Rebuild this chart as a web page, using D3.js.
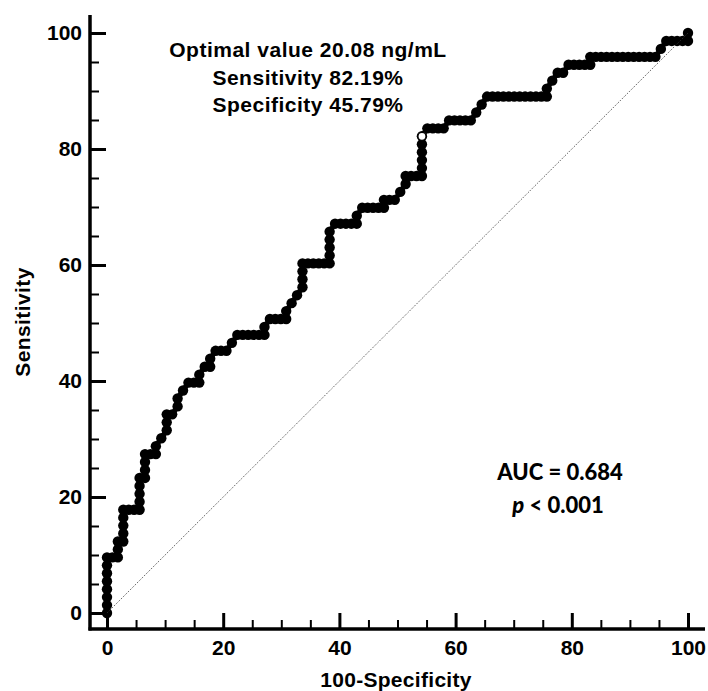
<!DOCTYPE html>
<html lang="en">
<head>
    <meta charset="UTF-8">
    <title>ROC curve</title>
    <style>
        body { margin: 0; background: #fff; }
    </style>
</head>
<body>
<script src="https://d3js.org/d3.v7.min.js"></script>
<script>
    // ROC points as case counts: false positives out of 107 negatives, true positives out of 73 positives
    var nNegative = 107;
    var nPositive = 73;
    var fpCount = [0,0,0,0,0,0,0,0, 1,2, 2,2, 3, 3,3,3,3, 4,5,6, 6,6,6,6, 7, 7,7,7, 8,9, 9, 10, 11, 11,11, 12, 13, 13, 14, 15,
        16,17, 17, 18, 19, 19, 20, 21,22, 23, 24, 25,26,27,28,29, 29, 30, 31,32,33, 33, 34, 35, 36, 36,36,36,
        37,38,39,40,41, 41,41,41,41, 42, 43,44,45,46, 46, 47, 48,49,50,51, 51, 52,53, 54, 55, 55, 56,57,58,
        58,58,58,58,58, 59, 60,61,62, 63, 64,65,66,67, 68, 69, 70, 71,72,73,74,75,76,77,78,79,80,81, 81, 82, 83, 84, 85,
        86,87,88,89, 89, 90,91,92,93,94,95,96,97,98,99,100,101, 102, 103, 104,105,106,107, 107];
    var tpCount = [0,1,2,3,4,5,6,7, 7,7, 8,9, 9, 10,11,12,13, 13,13,13, 14,15,16,17, 17, 18,19,20, 20,20, 21, 22, 23, 24,25, 25, 26, 27, 28, 29,
        29,29, 30, 31, 31, 32, 33, 33,33, 34, 35, 35,35,35,35,35, 36, 37, 37,37,37, 38, 39, 40, 41, 42,43,44,
        44,44,44,44,44, 45,46,47,48, 49, 49,49,49,49, 50, 51, 51,51,51,51, 52, 52,52, 53, 54, 55, 55,55,55,
        56,57,58,59,60, 61, 61,61,61, 62, 62,62,62,62, 63, 64, 65, 65,65,65,65,65,65,65,65,65,65,65, 66, 67, 68, 68, 69,
        69,69,69,69, 70, 70,70,70,70,70,70,70,70,70,70,70,70, 71, 72, 72,72,72,72, 73];

    // optimal cut-off point (100-specificity, sensitivity)
    var optimalPoint = [100 - 45.79, 82.19];
    var infoLines = ["Optimal value 20.08 ng/mL", "Sensitivity 82.19%", "Specificity 45.79%"];
    var majorTicks = [0, 20, 40, 60, 80, 100];
    var minorTicks = [5, 10, 15, 25, 30, 35, 45, 50, 55, 65, 70, 75, 85, 90, 95];

    var rocData = fpCount.map(function (d, i) {
        return [d / nNegative * 100, tpCount[i] / nPositive * 100];
    });

    var svg = d3.select("body")
                .append("svg")
                .attr("width", 708)
                .attr("height", 691);

    var x = d3.scaleLinear().domain([0, 100]).range([107, 688]);
    var y = d3.scaleLinear().domain([0, 100]).range([613, 33]);
    var axisX = 90, axisY = 629;
    var font = "Liberation Sans, Arial, sans-serif";

    // y axis: ticks point inward, labels outside
    var gy = svg.append("g").attr("transform", "translate(" + axisX + ",0)");
    gy.append("g").call(d3.axisRight(y).tickValues(minorTicks).tickSize(9).tickFormat(""))
        .call(function (g) { g.select(".domain").remove(); g.selectAll("line").attr("stroke-width", 2); });
    gy.append("g").call(d3.axisRight(y).tickValues(majorTicks).tickSize(16).tickFormat(""))
        .call(function (g) { g.select(".domain").remove(); g.selectAll("line").attr("stroke-width", 3); });
    gy.append("g").call(d3.axisLeft(y).tickValues(majorTicks).tickSize(0).tickPadding(8))
        .call(function (g) {
            g.select(".domain").remove();
            g.selectAll("text").attr("font-family", font)
                .attr("font-weight", "bold").attr("font-size", 21).attr("fill", "#000");
        });

    // x axis
    var gx = svg.append("g").attr("transform", "translate(0," + axisY + ")");
    gx.append("g").call(d3.axisTop(x).tickValues(minorTicks).tickSize(9).tickFormat(""))
        .call(function (g) { g.select(".domain").remove(); g.selectAll("line").attr("stroke-width", 2); });
    gx.append("g").call(d3.axisTop(x).tickValues(majorTicks).tickSize(16).tickFormat(""))
        .call(function (g) { g.select(".domain").remove(); g.selectAll("line").attr("stroke-width", 3); });
    gx.append("g").call(d3.axisBottom(x).tickValues(majorTicks).tickSize(0).tickPadding(11))
        .call(function (g) {
            g.select(".domain").remove();
            g.selectAll("text").attr("font-family", font)
                .attr("font-weight", "bold").attr("font-size", 21).attr("fill", "#000");
        });

    // axis lines
    svg.append("line")
        .attr("x1", axisX).attr("y1", 15)
        .attr("x2", axisX).attr("y2", axisY + 1.5)
        .attr("stroke", "black").attr("stroke-width", 3.5);
    svg.append("line")
        .attr("x1", axisX - 1.5).attr("y1", axisY)
        .attr("x2", 705).attr("y2", axisY)
        .attr("stroke", "black").attr("stroke-width", 3.5);

    // axis titles
    svg.append("text")
        .attr("x", 396).attr("y", 687)
        .attr("text-anchor", "middle")
        .attr("font-family", font)
        .attr("font-weight", "bold").attr("font-size", 21)
        .attr("letter-spacing", 0.3)
        .text("100-Specificity");
    svg.append("text")
        .attr("transform", "translate(30,322) rotate(-90)")
        .attr("text-anchor", "middle")
        .attr("font-family", font)
        .attr("font-weight", "bold").attr("font-size", 21)
        .attr("letter-spacing", 0.4)
        .text("Sensitivity");

    // ROC step curve with dots
    var line = d3.line()
        .x(function (d) { return x(d[0]); })
        .y(function (d) { return y(d[1]); });
    svg.append("path")
        .datum(rocData)
        .attr("d", line)
        .attr("fill", "none")
        .attr("stroke", "black")
        .attr("stroke-width", 5);
    svg.selectAll("circle.roc")
        .data(rocData)
        .enter()
        .append("circle")
        .attr("class", "roc")
        .attr("cx", function (d) { return x(d[0]); })
        .attr("cy", function (d) { return y(d[1]); })
        .attr("r", 5.2)
        .attr("fill", "black");

    svg.append("circle")
        .attr("cx", x(optimalPoint[0]))
        .attr("cy", y(optimalPoint[1]))
        .attr("r", 4)
        .attr("fill", "white")
        .attr("stroke", "black")
        .attr("stroke-width", 1.2);

    // reference diagonal
    svg.append("line")
        .attr("x1", x(0)).attr("y1", y(0))
        .attr("x2", x(100)).attr("y2", y(100))
        .attr("stroke", "#333")
        .attr("stroke-width", 1)
        .attr("stroke-dasharray", "1,1.5");

    // annotations
    svg.append("g").selectAll("text")
        .data(infoLines)
        .enter()
        .append("text")
        .attr("x", 308)
        .attr("y", function (d, i) { return 57 + i * 27.5; })
        .attr("text-anchor", "middle")
        .attr("font-family", font)
        .attr("font-weight", "bold").attr("font-size", 21)
        .attr("letter-spacing", 0.5)
        .text(function (d) { return d; });

    svg.append("text")
        .attr("x", 560).attr("y", 480)
        .attr("text-anchor", "middle")
        .attr("font-family", "Lato, sans-serif")
        .attr("font-weight", "900").attr("font-size", 22)
        .text("AUC = 0.684");
    var pText = svg.append("text")
        .attr("x", 558).attr("y", 513)
        .attr("text-anchor", "middle")
        .attr("font-family", "Lato, sans-serif")
        .attr("font-weight", "900").attr("font-size", 22);
    pText.append("tspan").attr("font-style", "italic").text("p");
    pText.append("tspan").text(" < 0.001");
</script>
</body>
</html>
